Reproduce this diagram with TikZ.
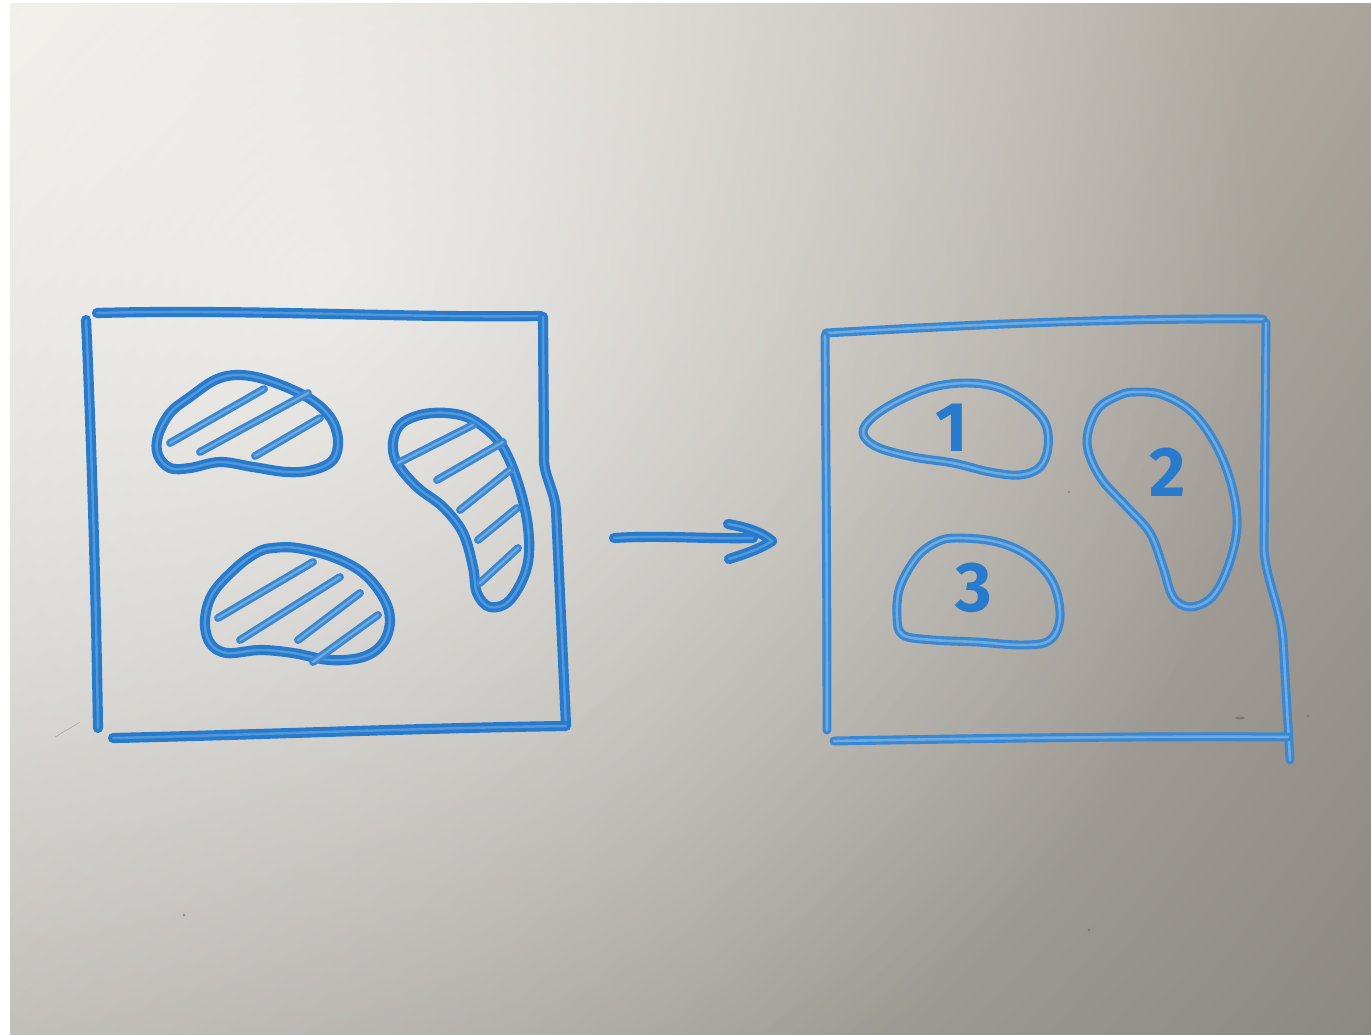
\documentclass[tikz,border=0pt]{standalone}
\usepackage{fontspec}
\setsansfont{Fira Sans}
\usetikzlibrary{fadings,shadings}
\definecolor{mk}{RGB}{40,122,204}
\definecolor{mkl}{RGB}{80,152,218}
\definecolor{mkb}{RGB}{58,136,210}
\definecolor{mkbl}{RGB}{108,170,224}
\definecolor{bUL}{RGB}{236,233,226}
\definecolor{bUR}{RGB}{170,164,156}
\definecolor{bLL}{RGB}{188,185,180}
\definecolor{bLR}{RGB}{140,136,130}
\tikzfading[name=glowfade, inner color=transparent!0, outer color=transparent!100]
\begin{document}
\begin{tikzpicture}[x=0.02cm,y=-0.02cm,
  pen/.style={draw=mk, line width=2.2pt, double=mkl, double distance=1.4pt, line cap=round, line join=round},
  penlight/.style={draw=mkb, line width=1.8pt, double=mkbl, double distance=1.5pt, line cap=round, line join=round},
  hatch/.style={draw=mkb, line width=1.6pt, double=mkbl, double distance=1.3pt, line cap=round},
  digit/.style={text=mk, font=\sffamily\bfseries\fontsize{40}{40}\selectfont, inner sep=0pt},
  speck/.style={fill=black!60, opacity=0.6}]
\useasboundingbox (0,0) rectangle (1371,1034);
% board
\fill[white] (0,0) rectangle (1371,1034);
\shade[upper left=bUL, upper right=bUR, lower left=bLL, lower right=bLR]
  (10,3) rectangle (1371,1034);
\fill[white, opacity=0.6, path fading=glowfade] (320,280) circle[radius=950];
\fill[white] (0,0) rectangle (10,1034);
\fill[white] (0,0) rectangle (1371,3);
% specks
\fill[speck] (1240,718) ellipse[x radius=5, y radius=1.5];
\fill[speck] (1308,716) circle[radius=1.5];
\fill[speck] (184,915) circle[radius=1.5];
\fill[speck] (1089,930) circle[radius=1.5];
\fill[speck] (1069,492) circle[radius=1.2];
\draw[black!35, line width=0.3pt] (55,737) -- (80,722);

% ---------- left frame ----------
\coordinate (LTa) at (97,313); \coordinate (LTb) at (541,316);
\coordinate (LRa) at (543,317); \coordinate (LRb) at (566,725);
\coordinate (LLa) at (86,320);  \coordinate (LLb) at (98,728);
\coordinate (LBa) at (113,738); \coordinate (LBb) at (566,726);
\draw[pen] (LTa) .. controls (250,309) and (400,318) .. (LTb);
\draw[pen] (LRa) -- (544,462) .. controls (546,480) and (554,490) .. (556,510) -- (LRb);
\draw[pen] (LLa) .. controls (92,450) and (96,600) .. (LLb);
\draw[pen] (LBa) .. controls (250,735) and (420,728) .. (LBb);

% blob A
\draw[pen] plot[smooth cycle, tension=0.6] coordinates {
 (215,380) (238,375) (267,380) (307,397) (330,417) (338,440) (333,460) (313,470)
 (287,472) (253,467) (220,462) (190,468) (170,468) (158,455) (158,436) (170,413) (190,397)};
\draw[hatch] (170,443) -- (264,389);
\draw[hatch] (200,452) -- (308,393);
\draw[hatch] (255,456) -- (320,418);

% blob B
\draw[pen] plot[smooth cycle, tension=0.6] coordinates {
 (420,415) (400,425) (393,443) (397,463) (417,487) (443,507) (463,533) (473,567)
 (477,593) (490,607) (510,600) (527,567) (528,527) (517,480) (500,443) (473,420) (447,413)};
\draw[hatch] (398,463) -- (473,425);
\draw[hatch] (437,480) -- (503,442);
\draw[hatch] (460,510) -- (510,470);
\draw[hatch] (478,540) -- (517,508);
\draw[hatch] (480,583) -- (518,548);

% blob C
\draw[pen] plot[smooth cycle, tension=0.6] coordinates {
 (273,548) (297,548) (333,557) (363,573) (383,597) (390,620) (383,643) (363,657)
 (330,660) (293,653) (260,650) (227,653) (210,643) (205,620) (213,593) (237,567) (258,552)};
\draw[hatch] (218,618) -- (313,562);
\draw[hatch] (240,640) -- (340,577);
\draw[hatch] (298,640) -- (360,593);
\draw[hatch] (313,662) -- (378,615);

% ---------- arrow ----------
\coordinate (As) at (614,538);
\coordinate (Ae) at (753,538);
\coordinate (Tip) at (772,541);
\coordinate (Bu) at (728,524);
\coordinate (Bl) at (729,559);
\draw[pen] (As) .. controls (660,535) and (700,539) .. (Ae);
\draw[pen] (Bu) .. controls (745,527) and (762,532) .. (Tip) .. controls (760,549) and (742,555) .. (Bl);

% ---------- right frame ----------
\coordinate (RTa) at (826,333); \coordinate (RTb) at (1263,319);
\coordinate (RRa) at (1266,323); \coordinate (RRb) at (1290,760);
\coordinate (RLa) at (825,336); \coordinate (RLb) at (827,730);
\coordinate (RBa) at (834,741); \coordinate (RBb) at (1288,737);
\draw[penlight] (RTa) .. controls (950,326) and (1100,318) .. (RTb);
\draw[penlight] (RRa) -- (1264,550) .. controls (1266,580) and (1280,605) .. (1283,640) -- (RRb);
\draw[penlight] (RLa) .. controls (826,450) and (827,600) .. (RLb);
\draw[penlight] (RBa) .. controls (1000,738) and (1150,736) .. (RBb);

% blob 1
\draw[penlight] plot[smooth cycle, tension=0.6] coordinates {
 (968,383) (1000,388) (1027,403) (1045,423) (1048,447) (1040,467) (1020,475) (990,472)
 (953,463) (913,457) (877,447) (863,433) (873,417) (900,400) (933,387)};
% blob 2
\draw[penlight] plot[smooth cycle, tension=0.6] coordinates {
 (1137,392) (1163,395) (1193,413) (1217,447) (1232,487) (1237,527) (1228,567) (1212,597)
 (1190,607) (1173,597) (1163,567) (1150,533) (1127,507) (1100,477) (1087,443) (1097,410) (1120,395)};
% blob 3
\draw[penlight] plot[smooth cycle, tension=0.6] coordinates {
 (957,538) (997,542) (1030,557) (1053,583) (1060,617) (1050,640) (1023,645) (977,642)
 (933,640) (903,635) (897,617) (900,587) (917,557) (937,542)};

\node[digit] (d1) at (952,428) {1};
\node[digit] (d2) at (1168,472) {2};
\node[digit] (d3) at (974,588) {3};
\end{tikzpicture}
\end{document}
